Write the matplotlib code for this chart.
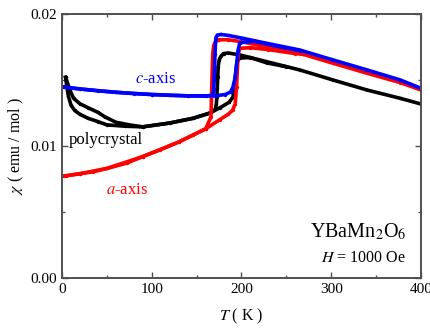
import matplotlib
matplotlib.use("Agg")
import matplotlib.pyplot as plt
from matplotlib.ticker import MultipleLocator

plt.rcParams['font.family'] = ['Liberation Serif', 'DejaVu Serif']
plt.rcParams['mathtext.fontset'] = 'stix'

# c-axis (blue)
c_cool_T = [400, 377, 340, 302, 265, 228, 200, 185, 177, 173, 171.5, 171, 170.5, 170, 169.5, 169, 168, 160, 140, 120, 100, 80, 60, 40, 20, 10, 2]
c_cool = [0.01437, 0.0150, 0.01576, 0.01652, 0.01727, 0.01778, 0.01818, 0.01838, 0.01845, 0.01840, 0.0182, 0.0178, 0.0170, 0.0160, 0.0150, 0.0143, 0.01385, 0.01378, 0.01380, 0.01384, 0.0139, 0.01397, 0.01407, 0.01418, 0.01432, 0.0144, 0.01447]
c_warm_T = [2, 20, 60, 100, 140, 170, 182, 188, 190.5, 193, 195, 196, 198, 205, 215, 240, 265]
c_warm = [0.01447, 0.01432, 0.01407, 0.0139, 0.0138, 0.0138, 0.0139, 0.0141, 0.01447, 0.0152, 0.0165, 0.0172, 0.0178, 0.0179, 0.01792, 0.01755, 0.01722]

# a-axis (red)
a_cool_T = [400, 377, 340, 302, 265, 228, 200, 185, 175, 171, 169, 168, 167.5, 167, 166.5, 166, 160, 146, 130, 109, 90, 72, 50, 35, 20, 5, 2]
a_cool = [0.01424, 0.0148, 0.01551, 0.01627, 0.01702, 0.01752, 0.01790, 0.01805, 0.01805, 0.0179, 0.0176, 0.0170, 0.0160, 0.0148, 0.0135, 0.0122, 0.0113, 0.01083, 0.0103, 0.0097, 0.0092, 0.0087, 0.0083, 0.00805, 0.0079, 0.00775, 0.00772]
a_warm_T = [2, 20, 50, 90, 130, 160, 176, 185, 190, 193, 194.5, 195.5, 196.5, 198, 210, 230, 260, 268]
a_warm = [0.00772, 0.0079, 0.0083, 0.0092, 0.0103, 0.0113, 0.0120, 0.0124, 0.0127, 0.0132, 0.0145, 0.0160, 0.0170, 0.0174, 0.01745, 0.0173, 0.0170, 0.01695]

# polycrystal (black)
p_cool_T = [400, 377, 340, 302, 265, 228, 198, 185, 180, 177, 175, 174, 173.5, 173, 172.5, 172, 171, 165, 146, 120, 90, 70, 50, 40, 29, 20, 14, 10, 7, 5, 4]
p_cool = [0.01318, 0.01361, 0.01424, 0.0150, 0.01576, 0.01639, 0.0169, 0.01705, 0.0170, 0.0168, 0.0165, 0.0160, 0.0152, 0.0144, 0.0137, 0.0132, 0.0128, 0.0125, 0.0121, 0.01174, 0.01145, 0.0115, 0.0116, 0.01185, 0.0121, 0.0124, 0.0127, 0.0131, 0.0138, 0.0147, 0.0152]
p_warm_T = [4, 6, 9, 13, 20, 29, 40, 48, 60, 75, 90, 120, 146, 165, 176, 186, 190.5, 193, 195, 198, 210, 228, 250]
p_warm = [0.0152, 0.0148, 0.0142, 0.0136, 0.0132, 0.0129, 0.01255, 0.0122, 0.0118, 0.0116, 0.01145, 0.01174, 0.0121, 0.0125, 0.0129, 0.0133, 0.01371, 0.0152, 0.0164, 0.01667, 0.0167, 0.0163, 0.0160]

fig = plt.figure(figsize=(4.31, 3.29), dpi=100)
ax = fig.add_axes([62/431, 1-278/329, (421-62)/431, (278-14)/329])

kw = dict(lw=2.6, marker='o', ms=2.4, mew=0)
ax.plot(p_cool_T, p_cool, color='black', **kw)
ax.plot(p_warm_T, p_warm, color='black', **kw)
ax.plot(a_cool_T, a_cool, color='#ff0000', **kw)
ax.plot(a_warm_T, a_warm, color='#ff0000', **kw)
ax.plot(c_cool_T, c_cool, color='#0000ff', **kw)
ax.plot(c_warm_T, c_warm, color='#0000ff', **kw)

ax.set_xlim(0, 400)
ax.set_ylim(0, 0.02)
ax.xaxis.set_major_locator(MultipleLocator(100))
ax.xaxis.set_minor_locator(MultipleLocator(50))
ax.yaxis.set_major_locator(MultipleLocator(0.01))
ax.yaxis.set_minor_locator(MultipleLocator(0.005))
ax.yaxis.set_major_formatter(matplotlib.ticker.FormatStrFormatter('%.2f'))
ax.tick_params(which='both', direction='in', top=True, right=True, labelsize=11, colors='#505050', labelcolor='black')
ax.tick_params(which='major', length=4, width=1)
ax.tick_params(which='minor', length=2.5, width=1)
for s in ax.spines.values():
    s.set_color('#505050')
    s.set_linewidth(1.4)

ax.set_xlabel('$T$ ( K )', fontsize=11.5, labelpad=8)
ax.set_ylabel('$\\chi$ ( emu / mol )', fontsize=11.5, labelpad=3)

ax.text(104, 0.0151, '$c$-axis', color='#0000ff', fontsize=12, ha='center', va='center')
ax.text(8, 0.01045, 'polycrystal', color='black', fontsize=12, ha='left', va='center')
ax.text(73, 0.0067, '$a$-axis', color='#ff0000', fontsize=12, ha='center', va='center')
ax.text(384, 0.0035, 'YBaMn$_2$O$_6$', fontsize=14.5, ha='right', va='center')
ax.text(383, 0.0015, '$H$ = 1000 Oe', fontsize=11.5, ha='right', va='center')

fig.savefig('out.png', dpi=100)
